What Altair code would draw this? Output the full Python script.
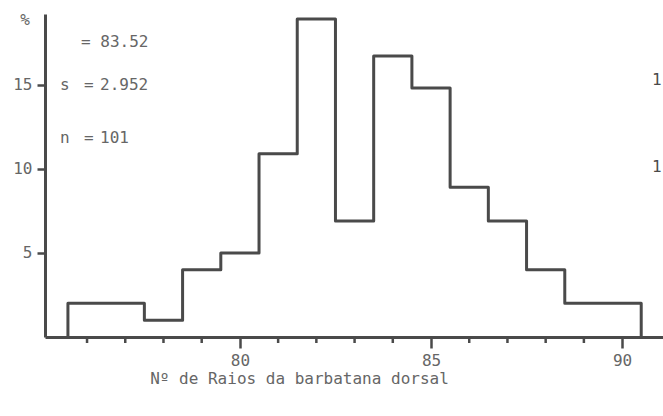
import altair as alt
import pandas as pd

# Dorsal fin ray counts (class centres) and their relative frequency (%)
rays = [76, 77, 78, 79, 80, 81, 82, 83, 84, 85, 86, 87, 88, 89, 90]
pct = [2.0, 2.0, 1.0, 4.0, 5.0, 10.9, 18.9, 6.9, 16.7, 14.8, 8.9, 6.9, 4.0, 2.0, 2.0]

major_ticks = [80, 85, 90]
minor_ticks = [76, 77, 78, 79, 81, 82, 83, 84, 86, 87, 88, 89]
y_ticks = [5, 10, 15]

mean_txt = "= 83.52"
sd_txt = "2.952"
n_txt = "101"

W, H = 618, 323
INK = "#4a4a4a"
TXT = "#666666"
FONT = "DejaVu Sans Mono"

# Step outline of the histogram: one point per left class edge,
# opened and closed on the baseline
edges = [r - 0.5 for r in rays]
outline = pd.DataFrame({
    "x": [edges[0]] + edges + [rays[-1] + 0.5],
    "y": [0.0] + pct + [0.0],
    "o": list(range(len(rays) + 2)),
})

xscale = alt.Scale(domain=[74.9, 91.07], nice=False, zero=False)
yscale = alt.Scale(domain=[0, 19.2], nice=False)

hist = alt.Chart(outline).mark_line(
    interpolate="step-after", color=INK, strokeWidth=3, strokeJoin="round"
).encode(
    x=alt.X("x:Q", scale=xscale, axis=alt.Axis(
        values=major_ticks, tickSize=11, tickWidth=2.5, tickColor=INK,
        domainColor=INK, domainWidth=3, grid=False,
        labelFont=FONT, labelFontSize=16, labelColor=TXT, labelPadding=4,
        title="Nº de Raios da barbatana dorsal",
        titleFont=FONT, titleFontSize=16, titleFontWeight="normal", titleColor=TXT,
        titleX=254, titleY=41, titleAlign="center", titleBaseline="middle",
    )),
    y=alt.Y("y:Q", scale=yscale, axis=alt.Axis(
        values=y_ticks, tickSize=8, tickWidth=2.5, tickColor=INK,
        domainColor=INK, domainWidth=3, grid=False,
        labelFont=FONT, labelFontSize=16, labelColor=TXT, labelPadding=5,
        title=None,
    )),
    order="o:O",
)

minor = alt.Chart(pd.DataFrame({"t": minor_ticks})).mark_rule(
    color=INK, strokeWidth=2.5
).encode(
    x=alt.X("t:Q", scale=xscale),
    y=alt.value(H),
    y2=alt.value(H + 6),
)


def label(text, px, py, size=16, align="left", color=TXT):
    return alt.Chart(pd.DataFrame({"s": [text]})).mark_text(
        font=FONT, fontSize=size, color=color, align=align, baseline="middle"
    ).encode(text="s:N", x=alt.value(px), y=alt.value(py))


labels = [
    label("%", -20, 6, align="center"),
    label(mean_txt, 36, 28),
    label("s", 15, 71),
    label("=", 39, 71),
    label(sd_txt, 55, 71),
    label("n", 15, 124),
    label("=", 39, 124),
    label(n_txt, 55, 124),
    label("1", 607, 66, color=INK),
    label("1", 607, 153, color=INK),
]

chart = alt.layer(hist, minor, *labels).properties(
    width=W, height=H,
    autosize="none",
    padding={"left": 45, "top": 14, "right": 0, "bottom": 79},
    background="white",
).configure_view(stroke=None)

chart.save("out.html", embed_options={"renderer": "svg", "actions": False})
